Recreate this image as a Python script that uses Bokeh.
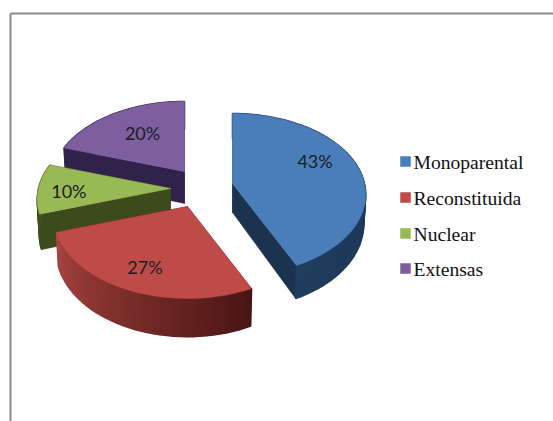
import math
from bokeh.plotting import figure
from bokeh.embed import file_html
from bokeh.resources import INLINE
from bokeh.core.properties import value

categories = ["Monoparental", "Reconstituida", "Nuclear", "Extensas"]
shares = [43, 27, 10, 20]
labels = ["43%", "27%", "10%", "20%"]

top_colors = ["#4a7ebb", "#be4b48", "#98b954", "#7d5fa0"]
wall_near = ["#1c3350", "#4a1614", "#3c4a1c", "#30224a"]
wall_far = ["#203c5e", "#a8443f", "#44541f", "#30224a"]
radial_colors = ["#1c3350", "#4a1614", "#3c4a1c", "#30224a"]

W, H = 553, 421
p = figure(width=W, height=H, x_range=(0, 553), y_range=(421, 0),
           toolbar_location=None, output_backend="svg", min_border=0,
           outline_line_color=None)
p.axis.visible = False
p.grid.visible = False
p.background_fill_color = "white"
p.border_fill_color = "white"

# frame
p.line([10, 10], [421, 13], line_color="#8c8c8c", line_width=2)
p.line([10, 553], [13, 13], line_color="#8c8c8c", line_width=2)

# pie geometry
RX, K, C = 132.0, 0.136, 79.5
depth = [29.0, 33.0, 34.0, 32.0]
apex = [(232, 183), (187, 206), (170, 188), (184, 171)]
label_f = [(0.66, -11), (0.71, 1), (0.77, 2), (0.60, -4)]


def project(a, D):
    s, c = math.sin(a), math.cos(a)
    den = 1 + K * c
    return RX * s / den, -C * c / den, D / den


def mix(c1, c2, t):
    a = [int(c1[i:i + 2], 16) for i in (1, 3, 5)]
    b = [int(c2[i:i + 2], 16) for i in (1, 3, 5)]
    return "#%02x%02x%02x" % tuple(round(a[i] + (b[i] - a[i]) * t) for i in range(3))


slices = []
start = 0.0
total = sum(shares)
for i, v in enumerate(shares):
    end = start + v / total * 2 * math.pi
    slices.append((start, end))
    start = end

draw_order = [3, 2, 1, 0]
for i in draw_order:
    a0, a1 = slices[i]
    ax, ay = apex[i]
    D = depth[i]
    n = max(8, int((a1 - a0) / math.radians(2.5)))
    angs = [a0 + (a1 - a0) * j / n for j in range(n + 1)]
    pts = [project(a, D) for a in angs]

    # radial walls
    for (px, py, d) in (pts[0], pts[-1]):
        xs = [ax, ax + px, ax + 0.985 * px, ax]
        ys = [ay, ay + py, ay + py + d, ay + D]
        p.patch(xs, ys, fill_color=radial_colors[i], line_color=radial_colors[i], line_width=0.5)

    # outer wall, shaded along the arc
    for j in range(n):
        (x0, y0, d0), (x1, y1, d1) = pts[j], pts[j + 1]
        col = mix(wall_near[i], wall_far[i], j / max(1, n - 1))
        p.patch([ax + x0, ax + x1, ax + 0.985 * x1, ax + 0.985 * x0],
                [ay + y0, ay + y1, ay + y1 + d1, ay + y0 + d0],
                fill_color=col, line_color=col, line_width=1.5)

    # top face
    xs = [ax] + [ax + q[0] for q in pts]
    ys = [ay] + [ay + q[1] for q in pts]
    p.patch(xs, ys, fill_color=top_colors[i], line_color=top_colors[i], line_width=0.5)

# value labels
for i in range(4):
    a0, a1 = slices[i]
    mx, my, _ = project((a0 + a1) / 2, depth[i])
    f, dy = label_f[i]
    p.text([apex[i][0] + f * mx], [apex[i][1] + f * my + dy], text=[labels[i]],
           text_font=value("Lato"), text_font_size="18px", text_color="#1c1c22",
           text_align="center", text_baseline="middle")

# legend
leg_y = [161, 197, 233, 268]
for i, c in enumerate(categories):
    y = leg_y[i]
    p.patch([400, 410, 410, 400], [y - 5, y - 5, y + 5, y + 5],
            fill_color=top_colors[i], line_color=top_colors[i], line_width=0.5)
    p.text([413], [y + 1], text=[c], text_font=value("Liberation Serif"),
           text_font_size="19.6px", text_color="#111111",
           text_align="left", text_baseline="middle")

open("out.html", "w").write(file_html(p, INLINE))
